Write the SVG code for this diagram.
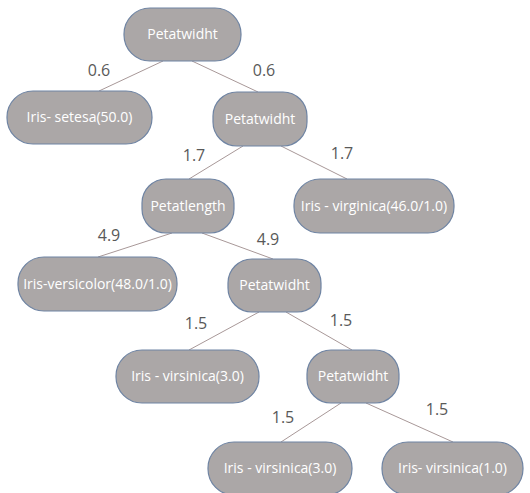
<svg xmlns="http://www.w3.org/2000/svg" width="530" height="493" viewBox="0 0 530 493">
<style>
.n rect{fill:#aba7a7;stroke:#6f84a3;stroke-width:1.2}
.n text{fill:#ffffff;font-family:"Open Sans","Liberation Sans",sans-serif;font-size:14px;text-anchor:middle}
.c line{stroke:#a89898;stroke-width:1}
.l{fill:#595959;font-family:"Open Sans","Liberation Sans",sans-serif;font-size:16px;text-anchor:middle}
</style>
<rect width="530" height="493" fill="#ffffff"/>
<g id="connectors" class="c">
<line x1="163" y1="61" x2="99" y2="91"/>
<line x1="192" y1="61" x2="258" y2="92"/>
<line x1="243" y1="146" x2="189" y2="179"/>
<line x1="281" y1="146" x2="347" y2="179"/>
<line x1="172" y1="233" x2="98" y2="257"/>
<line x1="202" y1="233" x2="273" y2="259"/>
<line x1="259" y1="312" x2="189" y2="350"/>
<line x1="286" y1="312" x2="352" y2="350"/>
<line x1="341" y1="403" x2="281" y2="442"/>
<line x1="366" y1="403" x2="453" y2="442"/>
</g>
<g id="edge-labels">
<text class="l" x="99" y="76">0.6</text>
<text class="l" x="264" y="76">0.6</text>
<text class="l" x="194" y="161">1.7</text>
<text class="l" x="342" y="159">1.7</text>
<text class="l" x="109" y="241">4.9</text>
<text class="l" x="268" y="245">4.9</text>
<text class="l" x="196" y="329">1.5</text>
<text class="l" x="341" y="326">1.5</text>
<text class="l" x="283" y="423">1.5</text>
<text class="l" x="437" y="415">1.5</text>
</g>
<g id="root" class="n"><rect x="124" y="8" width="117" height="53" rx="26"/><text x="182.5" y="39">Petatwidht</text></g>
<g id="setosa" class="n"><rect x="7" y="91" width="145" height="53" rx="26"/><text x="79.5" y="122">Iris- setesa(50.0)</text></g>
<g id="pw2" class="n"><rect x="213" y="92" width="94" height="54" rx="24"/><text x="260" y="124">Petatwidht</text></g>
<g id="petallength" class="n"><rect x="142" y="179" width="92" height="54" rx="24"/><text x="188" y="211">Petatlength</text></g>
<g id="virginica46" class="n"><rect x="294" y="179" width="160" height="54" rx="26"/><text x="374" y="211">Iris - virginica(46.0/1.0)</text></g>
<g id="versicolor" class="n"><rect x="18" y="257" width="159" height="54" rx="26"/><text x="97.5" y="289">Iris-versicolor(48.0/1.0)</text></g>
<g id="pw3" class="n"><rect x="228" y="259" width="93" height="53" rx="24"/><text x="274.5" y="290">Petatwidht</text></g>
<g id="virsinica3a" class="n"><rect x="116" y="350" width="143" height="53" rx="26"/><text x="187.5" y="381">Iris - virsinica(3.0)</text></g>
<g id="pw4" class="n"><rect x="307" y="350" width="92" height="53" rx="24"/><text x="353" y="381">Petatwidht</text></g>
<g id="virsinica3b" class="n"><rect x="208" y="442" width="144" height="53" rx="26"/><text x="280" y="473">Iris - virsinica(3.0)</text></g>
<g id="virsinica1" class="n"><rect x="382" y="442" width="141" height="53" rx="26"/><text x="452.5" y="473">Iris- virsinica(1.0)</text></g>
</svg>
